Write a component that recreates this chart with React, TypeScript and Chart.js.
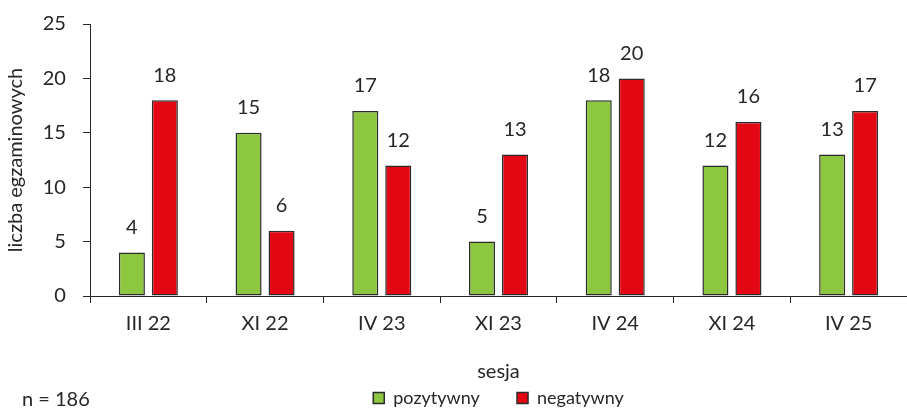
import React, { useEffect, useRef } from "react";
import { Chart, registerables } from "chart.js";

Chart.register(...registerables);

const categories = ["III 22", "XI 22", "IV 23", "XI 23", "IV 24", "XI 24", "IV 25"];
const positiveValues = [4, 15, 17, 5, 18, 12, 13];
const negativeValues = [18, 6, 12, 13, 20, 16, 17];
const seriesNames = ["pozytywny", "negatywny"];
const yTicks = [0, 5, 10, 15, 20, 25];
const xTitle = "sesja";
const yTitle = "liczba egzaminowych";
const noteText = "n = 186";

const FONT = "Lato, 'Open Sans', sans-serif";
const TEXT = "#262626";

const valueLabels = {
  id: "valueLabels",
  afterDatasetsDraw(chart: any) {
    const ctx = chart.ctx;
    ctx.save();
    ctx.font = `20px ${FONT}`;
    ctx.fillStyle = TEXT;
    ctx.textAlign = "center";
    ctx.textBaseline = "bottom";
    chart.data.datasets.forEach((ds: any, i: number) => {
      const meta = chart.getDatasetMeta(i);
      meta.data.forEach((bar: any, j: number) => {
        ctx.fillText(String(ds.data[j]), bar.x, bar.y - 15);
      });
    });
    ctx.restore();
  },
};

export default function App() {
  const ref = useRef<HTMLCanvasElement | null>(null);
  useEffect(() => {
    if (!ref.current) return;
    const chart = new Chart(ref.current, {
      type: "bar",
      data: {
        labels: categories,
        datasets: [
          {
            label: seriesNames[0],
            data: positiveValues,
            backgroundColor: "#8DC63F",
            borderColor: "#2b2b2b",
            borderWidth: 1.5,
            borderSkipped: false,
            categoryPercentage: 0.565,
            barPercentage: 0.79,
          },
          {
            label: seriesNames[1],
            data: negativeValues,
            backgroundColor: "#E30613",
            borderColor: "#2b2b2b",
            borderWidth: 1.5,
            borderSkipped: false,
            categoryPercentage: 0.565,
            barPercentage: 0.79,
          },
        ],
      },
      options: {
        animation: false,
        responsive: false,
        maintainAspectRatio: false,
        layout: { padding: { top: 24, right: 0, left: 0, bottom: -7 } },
        plugins: {
          tooltip: { enabled: false },
          legend: {
            position: "bottom",
            fullSize: false,
            labels: {
              boxWidth: 11,
              boxHeight: 11,
              padding: 5,
              color: TEXT,
              font: { family: FONT, size: 18 },
              generateLabels: (chart: any) => {
                const items = Chart.defaults.plugins.legend.labels.generateLabels(chart);
                return items.map((it: any, i: number) =>
                  i < items.length - 1 ? { ...it, text: it.text + "       " } : it
                );
              },
            },
          },
        },
        scales: {
          x: {
            afterFit: (s: any) => {
              s.height = 88;
            },
            grid: {
              offset: true,
              drawOnChartArea: false,
              tickLength: 7,
              color: TEXT,
              lineWidth: 1,
            },
            border: { display: true, color: TEXT, width: 1 },
            ticks: {
              color: TEXT,
              font: { family: FONT, size: 20 },
              padding: 9,
            },
            title: {
              display: true,
              text: xTitle,
              color: TEXT,
              font: { family: FONT, size: 20 },
              padding: { top: 0, bottom: 0 },
            },
          },
          y: {
            min: 0,
            max: 25,
            afterFit: (s: any) => {
              s.width = 90;
            },
            afterBuildTicks: (s: any) => {
              s.ticks = yTicks.map((v) => ({ value: v }));
            },
            grid: {
              drawOnChartArea: false,
              tickLength: 7,
              color: TEXT,
            },
            border: { display: true, color: TEXT, width: 1 },
            ticks: {
              color: TEXT,
              font: { family: FONT, size: 20 },
              padding: 12,
              callback: (v: any) => String(v) + " ",
            },
            title: {
              display: true,
              text: yTitle,
              color: TEXT,
              font: { family: FONT, size: 20 },
              padding: { top: 4, bottom: 0 },
            },
          },
        },
      },
      plugins: [valueLabels],
    } as any);
    return () => chart.destroy();
  }, []);
  return (
    <div style={{ position: "absolute", left: 0, top: 0, width: 907, height: 410, background: "#fff" }}>
      <canvas ref={ref} width={907} height={410} style={{ display: "block" }} />
      <div
        style={{
          position: "absolute",
          left: 22,
          top: 386,
          fontFamily: FONT,
          fontSize: 20,
          color: TEXT,
          lineHeight: "24px",
        }}
      >
        {noteText}
      </div>
    </div>
  );
}
